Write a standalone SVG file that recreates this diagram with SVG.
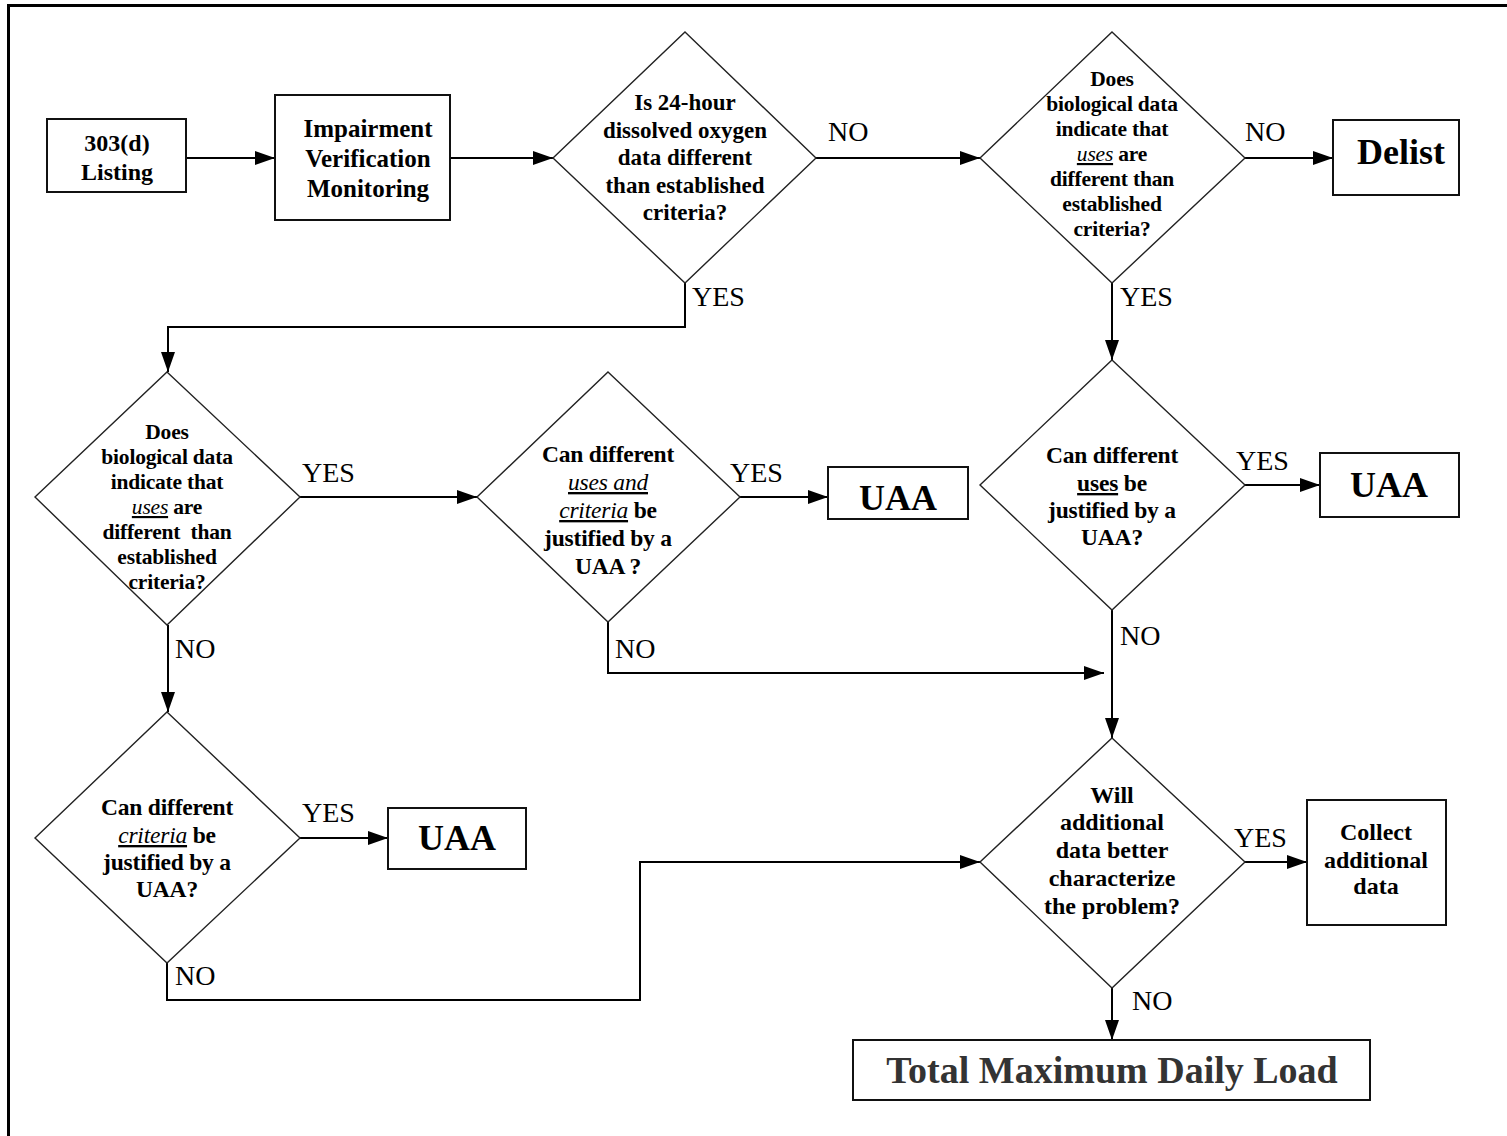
<svg xmlns="http://www.w3.org/2000/svg" width="1507" height="1136" viewBox="0 0 1507 1136">
<style>
.box{fill:#fff;stroke:#111;stroke-width:2}
.dia{fill:#fff;stroke:#222;stroke-width:1.4}
.con{fill:none;stroke:#000;stroke-width:2}
text{font-family:'Liberation Serif','Times New Roman',Times,serif;fill:#000}
.b{font-weight:bold;text-anchor:middle}
.q{font-size:23.5px;font-weight:bold;text-anchor:middle;letter-spacing:-0.2px}
.q1{font-size:23px;font-weight:bold;text-anchor:middle}
.q2{font-size:21.5px;font-weight:bold;text-anchor:middle;letter-spacing:-0.2px}
.q3{font-size:24px;font-weight:bold;text-anchor:middle}
.lbl{font-size:28px}
.big{font-size:36px;font-weight:bold;text-anchor:middle}
.u{font-style:italic;font-weight:normal;text-decoration:underline}
.ub{text-decoration:underline}
</style>
<defs>
<marker id="ah" markerUnits="userSpaceOnUse" markerWidth="22" markerHeight="16" refX="20" refY="7" orient="auto">
<path d="M0,0 L20,7 L0,14 z" fill="#000"/>
</marker>
</defs>
<rect width="1507" height="1136" fill="#fff"/>
<path d="M8.5,1136 V5.5 H1507" fill="none" stroke="#000" stroke-width="3"/>

<g id="connectors">
<path class="con" d="M186,158 H275" marker-end="url(#ah)"/>
<path class="con" d="M450,158 H553" marker-end="url(#ah)"/>
<path class="con" d="M816,158 H980" marker-end="url(#ah)"/>
<path class="con" d="M1245,158 H1333" marker-end="url(#ah)"/>
<path class="con" d="M685,283 V327 H168 V372" marker-end="url(#ah)"/>
<path class="con" d="M1112,283 V360" marker-end="url(#ah)"/>
<path class="con" d="M300,497 H477" marker-end="url(#ah)"/>
<path class="con" d="M740,497 H828" marker-end="url(#ah)"/>
<path class="con" d="M608,622 V673 H1104" marker-end="url(#ah)"/>
<path class="con" d="M1245,485 H1320" marker-end="url(#ah)"/>
<path class="con" d="M1112,610 V738" marker-end="url(#ah)"/>
<path class="con" d="M168,625 V712" marker-end="url(#ah)"/>
<path class="con" d="M300,838 H388" marker-end="url(#ah)"/>
<path class="con" d="M167,963 V1000 H640 V862 H980" marker-end="url(#ah)"/>
<path class="con" d="M1245,862 H1307" marker-end="url(#ah)"/>
<path class="con" d="M1112,988 V1040" marker-end="url(#ah)"/>
<text class="lbl" x="828" y="141">NO</text>
<text class="lbl" x="1245" y="141">NO</text>
<text class="lbl" x="692" y="306">YES</text>
<text class="lbl" x="1120" y="306">YES</text>
<text class="lbl" x="302" y="482">YES</text>
<text class="lbl" x="730" y="482">YES</text>
<text class="lbl" x="1236" y="470">YES</text>
<text class="lbl" x="1120" y="645">NO</text>
<text class="lbl" x="615" y="658">NO</text>
<text class="lbl" x="175" y="658">NO</text>
<text class="lbl" x="302" y="822">YES</text>
<text class="lbl" x="175" y="985">NO</text>
<text class="lbl" x="1234" y="847">YES</text>
<text class="lbl" x="1132" y="1010">NO</text>
</g>

<g id="listing">
<rect class="box" x="47" y="119" width="139" height="73"/>
<text class="b" style="font-size:24px" x="117" y="151">303(d)</text>
<text class="b" style="font-size:24px" x="117" y="180">Listing</text>
</g>

<g id="monitoring">
<rect class="box" x="275" y="95" width="175" height="125"/>
<text class="b" style="font-size:25px" x="368" y="137">Impairment</text>
<text class="b" style="font-size:25px" x="368" y="167">Verification</text>
<text class="b" style="font-size:25px" x="368" y="197">Monitoring</text>
</g>

<g id="d-oxygen">
<polygon class="dia" points="685,32 816,158 685,283 553,158"/>
<text class="q1" x="685" y="110">Is 24-hour</text>
<text class="q1" x="685" y="137.5">dissolved oxygen</text>
<text class="q1" x="685" y="165">data different</text>
<text class="q1" x="685" y="192.5">than established</text>
<text class="q1" x="685" y="220">criteria?</text>
</g>

<g id="d-bio-top">
<polygon class="dia" points="1112,32 1245,158 1112,283 980,158"/>
<text class="q2" x="1112" y="86">Does</text>
<text class="q2" x="1112" y="111">biological data</text>
<text class="q2" x="1112" y="136">indicate that</text>
<text class="q2" x="1112" y="161"><tspan class="u">uses</tspan> are</text>
<text class="q2" x="1112" y="186">different than</text>
<text class="q2" x="1112" y="211">established</text>
<text class="q2" x="1112" y="236">criteria?</text>
</g>

<g id="delist">
<rect class="box" x="1333" y="120" width="126" height="75"/>
<text class="big" x="1401" y="164">Delist</text>
</g>

<g id="d-bio-left">
<polygon class="dia" points="167,372 300,497 167,625 35,497"/>
<text class="q2" x="167" y="439">Does</text>
<text class="q2" x="167" y="464">biological data</text>
<text class="q2" x="167" y="489">indicate that</text>
<text class="q2" x="167" y="514"><tspan class="u">uses</tspan> are</text>
<text class="q2" x="167" y="539" xml:space="preserve">different  than</text>
<text class="q2" x="167" y="564">established</text>
<text class="q2" x="167" y="589">criteria?</text>
</g>

<g id="d-uses-criteria">
<polygon class="dia" points="608,372 740,497 608,622 477,497"/>
<text class="q" x="608" y="462">Can different</text>
<text class="q" x="608" y="490"><tspan class="u">uses and</tspan></text>
<text class="q" x="608" y="518"><tspan class="u">criteria</tspan> be</text>
<text class="q" x="608" y="546">justified by a</text>
<text class="q" x="608" y="574">UAA ?</text>
</g>

<g id="uaa-1">
<rect class="box" x="828" y="467" width="140" height="52"/>
<text class="big" x="898" y="510">UAA</text>
</g>

<g id="d-uses">
<polygon class="dia" points="1112,360 1245,485 1112,610 980,485"/>
<text class="q" x="1112" y="463">Can different</text>
<text class="q" x="1112" y="491"><tspan class="ub">uses</tspan> be</text>
<text class="q" x="1112" y="518">justified by a</text>
<text class="q" x="1112" y="545">UAA?</text>
</g>

<g id="uaa-2">
<rect class="box" x="1320" y="453" width="139" height="64"/>
<text class="big" x="1389" y="497">UAA</text>
</g>

<g id="d-criteria">
<polygon class="dia" points="167,712 300,838 167,963 35,838"/>
<text class="q" x="167" y="815">Can different</text>
<text class="q" x="167" y="843"><tspan class="u">criteria</tspan> be</text>
<text class="q" x="167" y="870">justified by a</text>
<text class="q" x="167" y="897">UAA?</text>
</g>

<g id="uaa-3">
<rect class="box" x="388" y="808" width="138" height="61"/>
<text class="big" x="457" y="850">UAA</text>
</g>

<g id="d-additional">
<polygon class="dia" points="1112,738 1245,862 1112,988 980,862"/>
<text class="q3" x="1112" y="803">Will</text>
<text class="q3" x="1112" y="830">additional</text>
<text class="q3" x="1112" y="858">data better</text>
<text class="q3" x="1112" y="886">characterize</text>
<text class="q3" x="1112" y="914">the problem?</text>
</g>

<g id="collect">
<rect class="box" x="1307" y="800" width="139" height="125"/>
<text class="q3" x="1376" y="840">Collect</text>
<text class="q3" x="1376" y="868">additional</text>
<text class="q3" x="1376" y="894">data</text>
</g>

<g id="tmdl">
<rect class="box" x="853" y="1040" width="517" height="60"/>
<text class="big" style="fill:#333;font-size:38px" x="1112" y="1083">Total Maximum Daily Load</text>
</g>
</svg>
